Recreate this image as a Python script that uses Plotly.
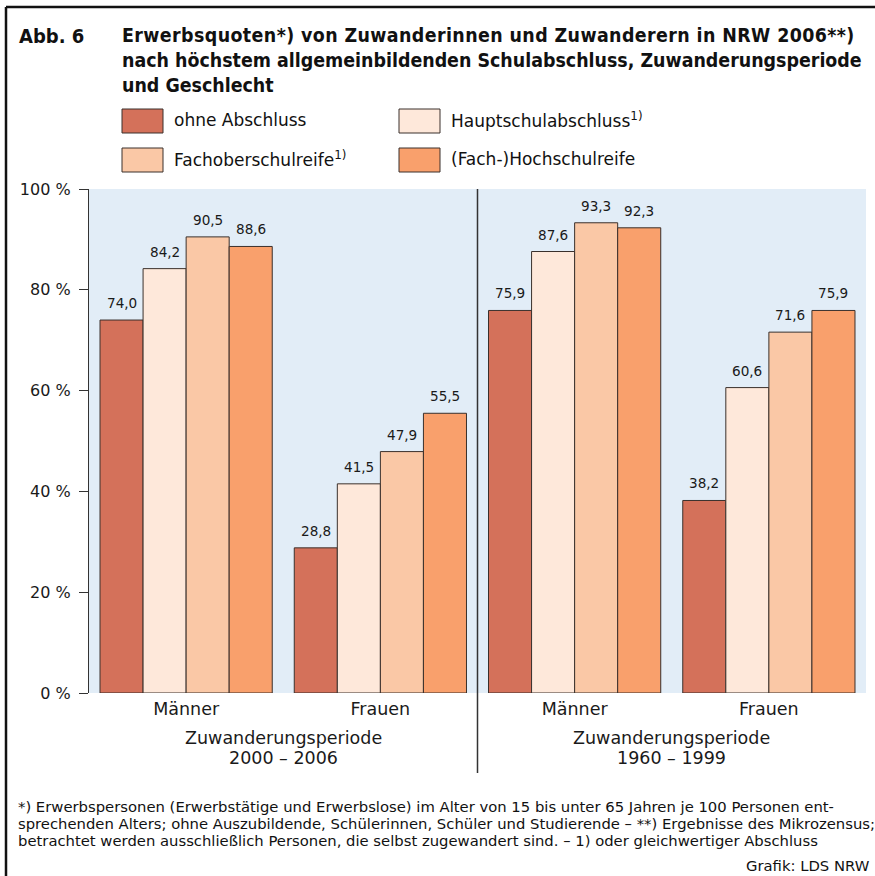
import plotly.graph_objects as go

# ---------------- data ----------------
categories = ["Männer", "Frauen", "Männer", "Frauen"]
series_names = ["ohne Abschluss", "Hauptschulabschluss<sup>1)</sup>",
                "Fachoberschulreife<sup>1)</sup>", "(Fach-)Hochschulreife"]
ohne_abschluss = [74.0, 28.8, 75.9, 38.2]
hauptschule = [84.2, 41.5, 87.6, 60.6]
fachoberschule = [90.5, 47.9, 93.3, 71.6]
hochschule = [88.6, 55.5, 92.3, 75.9]
period_names = ["Zuwanderungsperiode", "Zuwanderungsperiode"]
period_years = ["2000 – 2006", "1960 – 1999"]
y_ticks = [0, 20, 40, 60, 80, 100]
y_tick_labels = ["0 %", "20 %", "40 %", "60 %", "80 %", "100 %"]

colors = ["#D4715A", "#FEE8DA", "#FAC8A6", "#F9A06C"]
all_series = [ohne_abschluss, hauptschule, fachoberschule, hochschule]

W, H = 875, 876
L, R, T, B = 89, 9, 189, 183
PW, PH = W - L - R, H - T - B

def px(x):
    return (x - L) / PW

def py(y):
    return (H - B - y) / PH

SANS = "DejaVu Sans, Verdana, sans-serif"
COND = "DejaVu Sans Condensed, Liberation Sans Narrow, sans-serif"
NARROW = "Liberation Sans Narrow, DejaVu Sans Condensed, sans-serif"
TXT = "#1a1a1a"
BARGAP = 22 / 194

fig = go.Figure()
xs = list(range(len(categories)))
for name, vals, col in zip(series_names, all_series, colors):
    fig.add_trace(go.Bar(
        x=xs, y=vals, name=name, marker=dict(color=col, line=dict(color="#3a302c", width=1)),
        showlegend=False, hoverinfo="y",
    ))

annotations = []
bw = (1 - BARGAP) / len(all_series)
for i, vals in enumerate(all_series):
    for g, v in enumerate(vals):
        annotations.append(dict(
            x=g + (i - (len(all_series) - 1) / 2) * bw, y=v, xref="x", yref="y",
            text=f"{v:.1f}".replace(".", ","), showarrow=False,
            yanchor="middle", yshift=17, font=dict(family=SANS, size=13.6, color=TXT),
        ))

# period labels
for k, (pn, pyr) in enumerate(zip(period_names, period_years)):
    annotations.append(dict(x=2 * k + 0.5, y=py(738), xref="x", yref="paper", text=pn,
                            showarrow=False, yanchor="middle",
                            font=dict(family=SANS, size=17.5, color=TXT)))
    annotations.append(dict(x=2 * k + 0.5, y=py(758), xref="x", yref="paper", text=pyr,
                            showarrow=False, yanchor="middle",
                            font=dict(family=SANS, size=17.5, color=TXT)))

# title
annotations.append(dict(x=px(17), y=py(36), xref="paper", yref="paper", text="<b>Abb. 6</b>",
                        showarrow=False, xanchor="left", yanchor="middle",
                        font=dict(family=COND, size=20, color="#111")))
title_lines = ["Erwerbsquoten*) von Zuwanderinnen und Zuwanderern in NRW 2006**)",
               "nach höchstem allgemeinbildenden Schulabschluss, Zuwanderungsperiode",
               "und Geschlecht"]
title_spacing = ["0.4px", "0px", "0px"]
for j, (t, sp) in enumerate(zip(title_lines, title_spacing)):
    annotations.append(dict(x=px(120), y=py(36 + j * 24.7), xref="paper", yref="paper",
                            text=f"<span style='letter-spacing:{sp}'><b>{t}</b></span>",
                            showarrow=False, xanchor="left", yanchor="middle",
                            font=dict(family=NARROW, size=19.4, color="#111")))

# legend (manual)
shapes = []
leg_pos = [(122, 121), (399, 121), (122, 160), (399, 160)]
for (lx, ly), name, col in zip(leg_pos, series_names, colors):
    shapes.append(dict(type="rect", xref="paper", yref="paper",
                       x0=px(lx), x1=px(lx + 41), y0=py(ly - 12), y1=py(ly + 12),
                       fillcolor=col, line=dict(color="#3a302c", width=1)))
    annotations.append(dict(x=px(lx + 50), y=py(ly - 1), xref="paper", yref="paper", text=name,
                            showarrow=False, xanchor="left", yanchor="middle",
                            font=dict(family=SANS, size=17, color="#111")))

# footnotes
foot = ["*) Erwerbspersonen (Erwerbstätige und Erwerbslose) im Alter von 15 bis unter 65 Jahren je 100 Personen ent-",
        "sprechenden Alters; ohne Auszubildende, Schülerinnen, Schüler und Studierende – **) Ergebnisse des Mikrozensus;",
        "betrachtet werden ausschließlich Personen, die selbst zugewandert sind. – 1) oder gleichwertiger Abschluss"]
for j, t in enumerate(foot):
    annotations.append(dict(x=px(16), y=py(806.5 + j * 17.2), xref="paper", yref="paper", text=t,
                            showarrow=False, xanchor="left", yanchor="middle",
                            font=dict(family=SANS, size=14.8, color="#111")))
annotations.append(dict(x=px(872), y=py(865), xref="paper", yref="paper", text="Grafik: LDS NRW",
                        showarrow=False, xanchor="right", yanchor="middle",
                        font=dict(family=SANS, size=14.8, color="#111")))

# divider between periods
shapes.append(dict(type="line", xref="x", yref="paper", x0=1.5, x1=1.5, y0=py(773), y1=1,
                   line=dict(color="#333", width=1.5)))
# frame
shapes.append(dict(type="line", xref="paper", yref="paper", x0=px(6), x1=px(880), y0=py(7), y1=py(7),
                   line=dict(color="#111", width=2.5)))
shapes.append(dict(type="line", xref="paper", yref="paper", x0=px(6), x1=px(6), y0=py(7), y1=py(880),
                   line=dict(color="#111", width=2.5)))

fig.update_layout(
    width=W, height=H, margin=dict(l=L, r=R, t=T, b=B, autoexpand=False),
    barmode="group", bargap=BARGAP, bargroupgap=0,
    paper_bgcolor="white", plot_bgcolor="#E2EDF7",
    annotations=annotations, shapes=shapes, showlegend=False,
    font=dict(family=SANS, color=TXT),
)
fig.update_xaxes(range=[-0.5, 3.5], tickvals=xs, ticktext=categories, ticks="",
                 showgrid=False, zeroline=False, showline=False,
                 tickfont=dict(family=SANS, size=17.5, color=TXT), ticklabelstandoff=3)
fig.update_yaxes(range=[0, 100], tickvals=y_ticks, ticktext=y_tick_labels, ticks="outside",
                 ticklen=9, tickcolor="#333", tickwidth=1.2, showgrid=False, zeroline=False,
                 showline=True, linecolor="#333", linewidth=1.2,
                 tickfont=dict(family=SANS, size=16, color=TXT), ticklabelstandoff=5)

fig.write_html("out.html", config={"displayModeBar": False},
               post_script="document.body.style.margin='0';document.body.style.overflow='hidden';")
